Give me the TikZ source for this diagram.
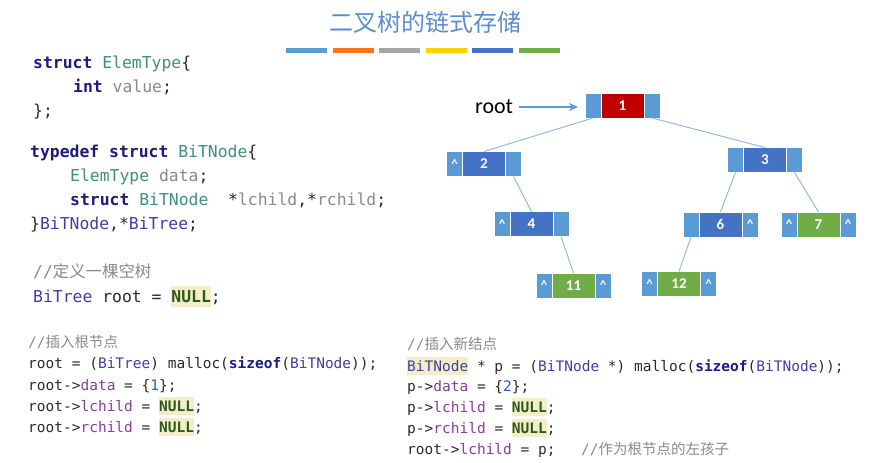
\documentclass[tikz,border=0pt]{standalone}
\usepackage{fontspec}
\setmainfont{Carlito}
\setsansfont{Carlito}
\setmonofont{DejaVu Sans Mono}
\newfontfamily\cjk{Noto Sans CJK SC}
\usetikzlibrary{positioning,arrows.meta}

\definecolor{titlecol}{HTML}{5A8ED0}
\definecolor{kwcol}{HTML}{1C1C80}
\definecolor{tycol}{HTML}{3F8F84}
\definecolor{tncol}{HTML}{4040A0}
\definecolor{fdcol}{HTML}{8B3D9B}
\definecolor{grcol}{HTML}{8A8A8A}
\definecolor{numcol}{HTML}{1F5BD6}
\definecolor{nullcol}{HTML}{2D5A1B}
\definecolor{hlcol}{HTML}{F4EDC9}
\definecolor{txtcol}{HTML}{2B2B2B}
\definecolor{ptrfill}{HTML}{5B9BD5}
\definecolor{bluefill}{HTML}{4472C4}
\definecolor{redfill}{HTML}{C00000}
\definecolor{greenfill}{HTML}{70AD47}
\definecolor{linkcol}{HTML}{8DB4E2}

\newcommand{\ckw}[1]{\textcolor{kwcol}{\textbf{#1}}}
\newcommand{\cty}[1]{\textcolor{tycol}{#1}}
\newcommand{\ctn}[1]{\textcolor{tncol}{#1}}
\newcommand{\cfd}[1]{\textcolor{fdcol}{#1}}
\newcommand{\cgr}[1]{\textcolor{grcol}{#1}}
\newcommand{\cnum}[1]{\textcolor{numcol}{#1}}
\newcommand{\chl}[1]{{\setlength{\fboxsep}{0pt}\colorbox{hlcol}{\rule[-0.3em]{0pt}{1.3em}#1}}}
\newcommand{\cnull}{\chl{\textcolor{nullcol}{\textbf{NULL}}}}
\newcommand{\ccmt}[1]{\textcolor{grcol}{//{\cjk #1}}}
\newcommand{\caret}{\textasciicircum}

\tikzset{
  code/.style={anchor=base west, inner sep=0pt, text=txtcol,
    font=\fontsize{16.4}{24}\selectfont\ttfamily},
  smallcode/.style={anchor=base west, inner sep=0pt, text=txtcol,
    font=\fontsize{14.5}{21}\selectfont\ttfamily},
  ptrcell/.style={draw=white, line width=0.8pt, fill=ptrfill, minimum width=16pt,
    minimum height=25pt, inner sep=0pt, outer sep=0pt, text=white,
    font=\sffamily\bfseries\fontsize{13}{13}\selectfont},
  datacell/.style={draw=white, line width=0.8pt, minimum width=43pt,
    minimum height=25pt, inner sep=0pt, outer sep=0pt, text=white,
    font=\sffamily\bfseries\fontsize{15}{15}\selectfont},
  link/.style={draw=linkcol, line width=0.9pt},
  rootarrow/.style={draw=ptrfill, line width=1.8pt, -{Stealth[length=9pt,width=8pt]}}
}

\begin{document}
\begin{tikzpicture}[x=1pt, y=-1pt]
  \useasboundingbox[fill=white] (0,0) rectangle (871,463);

  % title and colour bars
  \node[font=\cjk\fontsize{24}{24}\selectfont, text=titlecol] (title) at (425,22) {二叉树的链式存储};
  \fill[ptrfill] (286,48) rectangle (327,52.5);
  \fill[orange!80!red!90!white] (332.5,48) rectangle (373.5,52.5);
  \fill[gray!70] (379,48) rectangle (420,52.5);
  \fill[yellow!70!orange] (425.5,48) rectangle (466.5,52.5);
  \fill[bluefill] (472,48) rectangle (513,52.5);
  \fill[greenfill] (518.5,48) rectangle (559.5,52.5);

  % struct definitions
  \node[code] (s1) at (33,68) {\ckw{struct} \cty{ElemType}\{};
  \node[code] (s2) at (73,92) {\ckw{int} \cgr{value};};
  \node[code] (s3) at (33,116) {\};};

  \node[code] (t1) at (30,157) {\ckw{typedef} \ckw{struct} \cty{BiTNode}\{};
  \node[code] (t2) at (70,181) {\cty{ElemType} \cgr{data};};
  \node[code] (t3) at (70,205) {\ckw{struct} \cty{BiTNode}\ \ *\cgr{lchild},*\cgr{rchild};};
  \node[code] (t4) at (30,229) {\}\ctn{BiTNode},*\ctn{BiTree};};

  \node[code] (e1) at (33,277) {\ccmt{定义一棵空树}};
  \node[code] (e2) at (33,302) {\ctn{BiTree} root = \cnull;};

  % insert root
  \node[smallcode] (a0) at (28,347) {\ccmt{插入根节点}};
  \node[smallcode] (a1) at (28,368) {root = (\ctn{BiTree}) malloc(\ckw{sizeof}(\ctn{BiTNode}));};
  \node[smallcode] (a2) at (28,390) {root->\cfd{data} = \{\cnum{1}\};};
  \node[smallcode] (a3) at (28,411) {root->\cfd{lchild} = \cnull;};
  \node[smallcode] (a4) at (28,432) {root->\cfd{rchild} = \cnull;};

  % insert new node
  \node[smallcode] (b0) at (407,349) {\ccmt{插入新结点}};
  \node[smallcode] (b1) at (407,371) {\chl{\ctn{BiTNode}} * p = (\ctn{BiTNode} *) malloc(\ckw{sizeof}(\ctn{BiTNode}));};
  \node[smallcode] (b2) at (407,391) {p->\cfd{data} = \{\cnum{2}\};};
  \node[smallcode] (b3) at (407,412) {p->\cfd{lchild} = \cnull;};
  \node[smallcode] (b4) at (407,433) {p->\cfd{rchild} = \cnull;};
  \node[smallcode] (b5) at (407,454) {root->\cfd{lchild} = p;};
  \node[smallcode] (b6) at (581,454) {\ccmt{作为根节点的左孩子}};

  % tree
  \node[datacell, fill=redfill] (n1) at (622.5,105.5) {1};
  \node[ptrcell, left=0pt of n1] (n1l) {};
  \node[ptrcell, right=0pt of n1] (n1r) {};

  \node[datacell, fill=bluefill] (n2) at (484,164) {2};
  \node[ptrcell, left=0pt of n2] (n2l) {\caret};
  \node[ptrcell, right=0pt of n2] (n2r) {};

  \node[datacell, fill=bluefill] (n3) at (765,160) {3};
  \node[ptrcell, left=0pt of n3] (n3l) {};
  \node[ptrcell, right=0pt of n3] (n3r) {};

  \node[datacell, fill=bluefill] (n4) at (531.5,224) {4};
  \node[ptrcell, left=0pt of n4] (n4l) {\caret};
  \node[ptrcell, right=0pt of n4] (n4r) {};

  \node[datacell, fill=bluefill] (n6) at (720.5,224.5) {6};
  \node[ptrcell, left=0pt of n6] (n6l) {};
  \node[ptrcell, right=0pt of n6] (n6r) {\caret};

  \node[datacell, fill=greenfill] (n7) at (818.5,224.5) {7};
  \node[ptrcell, left=0pt of n7] (n7l) {\caret};
  \node[ptrcell, right=0pt of n7] (n7r) {\caret};

  \node[datacell, fill=greenfill] (n11) at (573.5,285.5) {11};
  \node[ptrcell, left=0pt of n11] (n11l) {\caret};
  \node[ptrcell, right=0pt of n11] (n11r) {\caret};

  \node[datacell, fill=greenfill] (n12) at (679,284) {12};
  \node[ptrcell, left=0pt of n12] (n12l) {\caret};
  \node[ptrcell, right=0pt of n12] (n12r) {\caret};

  \draw[link] (n1l.south) -- (n2.north);
  \draw[link] (n1r.south) -- (n3.north);
  \draw[link] (n2r.south) -- (n4.north);
  \draw[link] (n4r.south) -- (n11.north);
  \draw[link] (n3l.south) -- (n6.north);
  \draw[link] (n3r.south) -- (n7.north);
  \draw[link] (n6l.south) -- (n12.north);

  % root pointer
  \node[anchor=west, inner sep=0pt, text=black, font=\sffamily\fontsize{22}{22}\selectfont] (rootlbl) at (475,107) {root};
  \draw[rootarrow, shorten <=6pt, shorten >=7pt] (rootlbl.east) -- (rootlbl.east -| n1l.west);
\end{tikzpicture}
\end{document}
